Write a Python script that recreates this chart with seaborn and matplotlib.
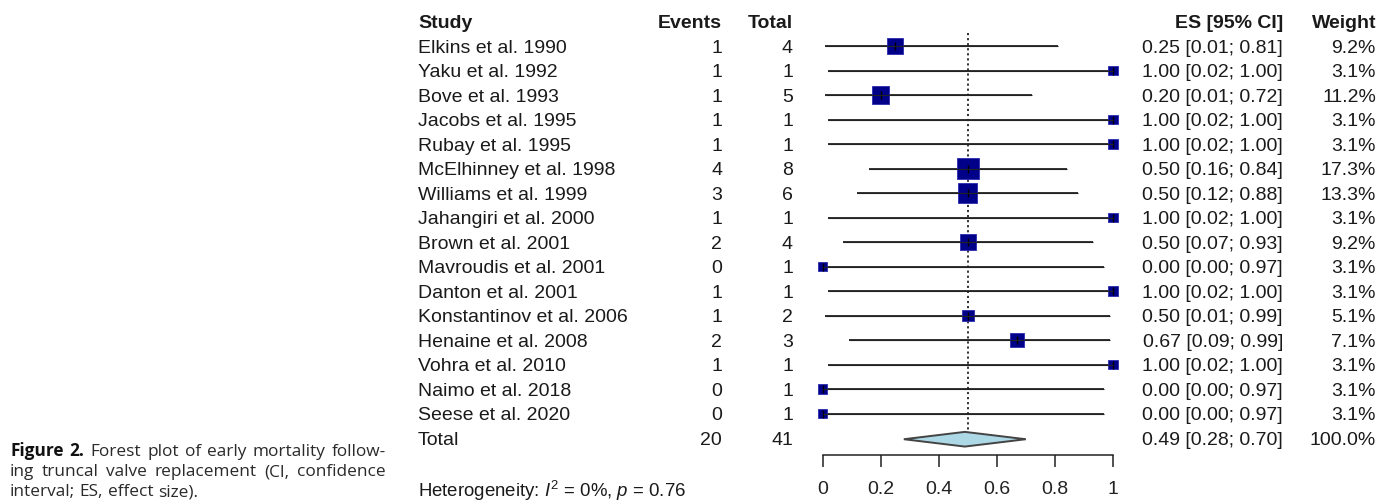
import matplotlib
matplotlib.use("Agg")
import matplotlib.pyplot as plt
import matplotlib.transforms as mtransforms
from matplotlib.patches import Polygon
import pandas as pd
import seaborn as sns

# data
studies = ["Elkins et al. 1990", "Yaku et al. 1992", "Bove et al. 1993", "Jacobs et al. 1995",
           "Rubay et al. 1995", "McElhinney et al. 1998", "Williams et al. 1999",
           "Jahangiri et al. 2000", "Brown et al. 2001", "Mavroudis et al. 2001",
           "Danton et al. 2001", "Konstantinov et al. 2006", "Henaine et al. 2008",
           "Vohra et al. 2010", "Naimo et al. 2018", "Seese et al. 2020"]
events = [1, 1, 1, 1, 1, 4, 3, 1, 2, 0, 1, 1, 2, 1, 0, 0]
totals = [4, 1, 5, 1, 1, 8, 6, 1, 4, 1, 1, 2, 3, 1, 1, 1]
es = [0.25, 1.00, 0.20, 1.00, 1.00, 0.50, 0.50, 1.00, 0.50, 0.00, 1.00, 0.50, 0.67, 1.00, 0.00, 0.00]
ci_low = [0.01, 0.02, 0.01, 0.02, 0.02, 0.16, 0.12, 0.02, 0.07, 0.00, 0.02, 0.01, 0.09, 0.02, 0.00, 0.00]
ci_high = [0.81, 1.00, 0.72, 1.00, 1.00, 0.84, 0.88, 1.00, 0.93, 0.97, 1.00, 0.99, 0.99, 1.00, 0.97, 0.97]
weights = [9.2, 3.1, 11.2, 3.1, 3.1, 17.3, 13.3, 3.1, 9.2, 3.1, 3.1, 5.1, 7.1, 3.1, 3.1, 3.1]
total_events = 20
total_n = 41
pooled = [0.49, 0.28, 0.70]
pooled_weight = 100.0
ref_line = 0.5
x_ticks = [0, 0.2, 0.4, 0.6, 0.8, 1]
headers = ["Study", "Events", "Total", "ES [95% CI]", "Weight"]
heterogeneity = r"Heterogeneity: $I^2$ = 0%, $p$ = 0.76"
caption_lines = [
    [("Figure", "bold"), ("2.", "bold"), "Forest", "plot", "of", "early", "mortality", "follow-"],
    ["ing", "truncal", "valve", "replacement", "(CI,", "confidence"],
    ["interval;", "ES,", "effect", "size)."],
]

df = pd.DataFrame({"study": studies, "events": events, "total": totals, "es": es,
                   "lo": ci_low, "hi": ci_high, "weight": weights})
df["row"] = range(1, len(df) + 1)
total_row = len(df) + 1

sns.set_theme(style="white")
plt.rcParams["font.family"] = ["Liberation Sans", "DejaVu Sans"]
plt.rcParams["mathtext.fontset"] = "custom"
plt.rcParams["mathtext.rm"] = "Liberation Sans"
plt.rcParams["mathtext.it"] = "Liberation Sans:italic"

W, H = 1392, 504
fs = 14
fig = plt.figure(figsize=(W / 100, H / 100), dpi=100)
fig.patch.set_facecolor("white")

# axis: x 0 -> 822.5px, 1 -> 1113px ; row k at 21.5 + 24.5*k px
ax = fig.add_axes([822.5 / W, (H - 455) / H, 290.5 / W, 455 / H])
ax.set_xlim(0, 1)
ax.set_ylim((455 - 21.5) / 24.5, -21.5 / 24.5)
ax.set_facecolor("none")

# confidence intervals
ax.hlines(df["row"], df["lo"], df["hi"], color="#222222", lw=1.3, zorder=2, clip_on=False)

# weighted squares (area proportional to weight)
k = 14.5
sns.scatterplot(data=df, x="es", y="row", size="weight", marker="s",
                sizes=(k * min(weights), k * max(weights)),
                size_norm=(min(weights), max(weights)),
                color="#000088", edgecolor="#2b2bb0", linewidth=0.6,
                legend=False, ax=ax, zorder=3, clip_on=False)
ax.scatter(df["es"], df["row"], marker="|", s=30, color="black", lw=1.0, zorder=4, clip_on=False)
ax.hlines(df["row"], df["lo"], df["hi"], color="#222222", lw=0.8, zorder=4, clip_on=False)

# pooled diamond
half = 0.3
yc = total_row + 0.05
dia = Polygon([(pooled[1], yc), (pooled[0], yc - half),
               (pooled[2], yc), (pooled[0], yc + half)],
              closed=True, facecolor="#add8e6", edgecolor="#444444", lw=1.4, zorder=3,
              clip_on=False)
ax.add_patch(dia)

# reference dotted line
ax.vlines(ref_line, 0.45, yc - half, color="#222222", lw=1.3,
          linestyles=(0, (1.2, 1.6)), zorder=1, clip_on=False)

# axis styling
for s in ["top", "left", "right"]:
    ax.spines[s].set_visible(False)
ax.spines["bottom"].set_color("#222222")
ax.spines["bottom"].set_linewidth(1.1)
ax.spines["bottom"].set_bounds(0, 1)
ax.set_yticks([])
ax.set_xticks(x_ticks)
ax.set_xticklabels([f"{t:g}" for t in x_ticks])
ax.tick_params(axis="x", direction="out", length=8.6, width=1.1, color="#222222",
               labelsize=fs, labelcolor="#222222", pad=10, bottom=True)
ax.set_xlabel("")
ax.set_ylabel("")

# text columns (x in figure pixels, y in rows)
base = mtransforms.blended_transform_factory(fig.transFigure, ax.transData)
trans = mtransforms.offset_copy(base, fig=fig, y=-0.716 * fs / 2, units="points")


def put(xpx, row, s, ha, weight="normal"):
    ax.text(xpx / W, row, s, transform=trans, ha=ha, va="baseline", fontsize=fs,
            fontweight=weight, color="#1a1a1a", clip_on=False)


cols = [(418, "left"), (722, "right"), (793, "right"), (1283, "right"), (1376, "right")]
for (xpx, ha), h in zip(cols, headers):
    put(xpx, 0, h, ha, "bold")

for _, r in df.iterrows():
    vals = [r["study"], str(int(r["events"])), str(int(r["total"])),
            f"{r['es']:.2f} [{r['lo']:.2f}; {r['hi']:.2f}]", f"{r['weight']:.1f}%"]
    for (xpx, ha), v in zip(cols, vals):
        put(xpx, r["row"], v, ha)

tot_vals = ["Total", str(total_events), str(total_n),
            f"{pooled[0]:.2f} [{pooled[1]:.2f}; {pooled[2]:.2f}]", f"{pooled_weight:.1f}%"]
for (xpx, ha), v in zip(cols, tot_vals):
    put(xpx, total_row, v, ha)

fig.text(418 / W, 1 - 497 / H, heterogeneity, fontsize=13.4, color="#1a1a1a", va="baseline")

# caption, justified like the journal layout
cap_fs = 12.4
cap_font = ["Open Sans", "DejaVu Sans"]
renderer = fig.canvas.get_renderer()
x_left, x_right = 10, 386
baselines = [456, 476.5, 496.5]
for li, (words, yb) in enumerate(zip(caption_lines, baselines)):
    items = []
    for w in words:
        txt, wt = (w if isinstance(w, tuple) else (w, "normal"))
        t = fig.text(0, 1 - yb / H, txt, fontsize=cap_fs, family=cap_font, fontweight=wt,
                     color="#111111" if wt == "bold" else "#2a2a2a", va="baseline")
        items.append(t)
    widths = [t.get_window_extent(renderer).width for t in items]
    if li < len(caption_lines) - 1:
        gap = (x_right - x_left - sum(widths)) / (len(items) - 1)
    else:
        gap = cap_fs * 0.26 * 100 / 72
    x = x_left
    for t, wd in zip(items, widths):
        t.set_x(x / W)
        x += wd + gap

fig.savefig("out.png", dpi=100, facecolor="white")
